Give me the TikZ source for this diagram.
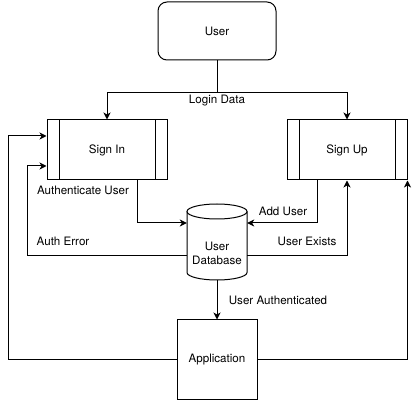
\documentclass[tikz,border=0pt]{standalone}
\usepackage{fontspec}
\setmainfont{TeX Gyre Heros}
\usetikzlibrary{arrows.meta,calc}

\tikzset{
    box/.style={draw, line width=1pt, minimum width=80pt, minimum height=80pt, inner sep=0pt},
    proc/.style={draw, line width=1pt, minimum width=120pt, minimum height=60pt, inner sep=0pt,
        path picture={
            \draw ([xshift=12pt]path picture bounding box.north west) -- ([xshift=12pt]path picture bounding box.south west);
            \draw ([xshift=-12pt]path picture bounding box.north east) -- ([xshift=-12pt]path picture bounding box.south east);
        }},
    arr/.style={line width=1pt, -{Stealth[length=7pt,width=7pt,inset=2pt]}},
    lbl/.style={inner sep=1pt}
}

\begin{document}
\begin{tikzpicture}[x=1pt, y=-1pt, font=\fontsize{11.6}{14}\selectfont]
    \useasboundingbox (0,0) rectangle (416,401);

    % boxes
    \node[box, rounded corners=9pt, minimum width=118pt, minimum height=58pt] (user) at (217,31) {User};
    \node[proc] (signin) at (107,150) {Sign In};
    \node[proc] (signup) at (347,150) {Sign Up};
    \node[box] (app) at (217,360) {Application};

    % database
    \draw[line width=1pt] (187,211.5) -- (187,272.5) arc[start angle=180, end angle=0, x radius=30, y radius=7.5] -- (247,211.5);
    \draw[line width=1pt] (217,211.5) ellipse [x radius=30, y radius=7.5];
    \node[minimum width=60pt, minimum height=54pt, inner sep=0pt, align=center] (db) at (217,253) {User\\Database};

    % turning points
    \coordinate (lout) at (8,136);
    \coordinate (lin) at (27,166);

    % connectors
    \draw[arr] (user.south) -- ++(0,32) -| (signin.north);
    \draw[arr] (user.south) -- ++(0,32) -| (signup.north);
    \draw[arr] ([xshift=30pt]signin.south) |- ($(db.west)+(0,-30)$);
    \draw[arr] ([xshift=-30pt]signup.south) |- ($(db.east)+(0,-30)$);
    \draw[arr] ($(db.west)+(0,3)$) -| (lin) -- (signin.west |- lin);
    \draw[arr] ($(db.east)+(0,3)$) -| (signup.south);
    \draw[arr] (db.south) -- (app.north);
    \draw[arr] (app.west) -| (lout) -- (signin.west |- lout);
    \draw[arr] (app.east) -| (signup.south east);

    % labels
    \node[lbl] (llogin) at (217,101) {Login Data};
    \node[lbl] (lauth) at (83,190) {Authenticate User};
    \node[lbl] (ladd) at (283,211) {Add User};
    \node[lbl] (lerr) at (63,241) {Auth Error};
    \node[lbl] (lexist) at (307,241) {User Exists};
    \node[lbl] (lok) at (278,300) {User Authenticated};
\end{tikzpicture}
\end{document}
